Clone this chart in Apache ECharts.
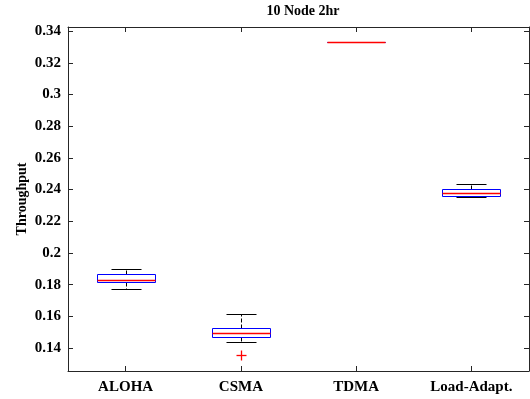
<!DOCTYPE html>
<html>
<head>
<meta charset="utf-8">
<script src="https://cdn.jsdelivr.net/npm/echarts@6/dist/echarts.min.js"></script>
<style>
  html, body { margin: 0; padding: 0; background: #fff; }
  #chart { width: 530px; height: 399px; }
</style>
</head>
<body>
<div id="chart"></div>
<script>
// box plot stats per protocol
const categories = ['ALOHA', 'CSMA', 'TDMA', 'Load-Adapt.']
const lowerWhisker = [0.1775, 0.1438, 0.3333, 0.2353]
const q1 = [0.1817, 0.1468, 0.3333, 0.2361]
const median = [0.1829, 0.1495, 0.3333, 0.2380]
const q3 = [0.1865, 0.1528, 0.3333, 0.2403]
const upperWhisker = [0.1899, 0.1616, 0.3333, 0.2433]
// outliers: [category index, value]
const outliers = [[1, 0.1356]]

const yMin = 0.1255
const yMax = 0.3426
const font = 'Liberation Serif, Times New Roman, serif'
const axisColor = '#262626'

const boxData = categories.map((c, i) => [i, lowerWhisker[i], q1[i], median[i], q3[i], upperWhisker[i]])

// snap to pixel centre so 1px lines stay crisp
const px = v => Math.round(v) + 0.5

function renderBox(params, api) {
  const i = api.value(0)
  const band = api.size([1, 0])[0]
  const x = px(api.coord([i, 0])[0])
  const yLow = px(api.coord([i, api.value(1)])[1])
  const yQ1 = px(api.coord([i, api.value(2)])[1])
  const yMed = px(api.coord([i, api.value(3)])[1])
  const yQ3 = px(api.coord([i, api.value(4)])[1])
  const yHigh = px(api.coord([i, api.value(5)])[1])
  const halfBox = Math.round(band * 0.25)
  const halfCap = Math.round(band * 0.13)
  const dash = { stroke: '#000', lineWidth: 1, lineDash: [4, 2] }
  const solid = { stroke: '#000', lineWidth: 1 }
  return {
    type: 'group',
    children: [
      { type: 'line', shape: { x1: x, y1: yQ3, x2: x, y2: yHigh }, style: dash },
      { type: 'line', shape: { x1: x, y1: yQ1, x2: x, y2: yLow }, style: dash },
      { type: 'line', shape: { x1: x - halfCap, y1: yHigh, x2: x + halfCap, y2: yHigh }, style: solid },
      { type: 'line', shape: { x1: x - halfCap, y1: yLow, x2: x + halfCap, y2: yLow }, style: solid },
      {
        type: 'rect',
        shape: { x: x - halfBox, y: yQ3, width: halfBox * 2, height: yQ1 - yQ3 },
        style: { stroke: '#0000ff', fill: 'none', lineWidth: 1 }
      },
      { type: 'line', shape: { x1: x - halfBox, y1: yMed, x2: x + halfBox, y2: yMed }, style: { stroke: '#ff0000', lineWidth: 1.3 } }
    ]
  }
}

function renderOutlier(params, api) {
  const p = api.coord([api.value(0), api.value(1)])
  const cx = px(p[0])
  const cy = px(p[1])
  const s = 5
  const st = { stroke: '#ff0000', fill: 'none', lineWidth: 1.3 }
  return {
    type: 'group',
    children: [
      { type: 'line', shape: { x1: cx - s, y1: cy, x2: cx + s, y2: cy }, style: st },
      { type: 'line', shape: { x1: cx, y1: cy - s, x2: cx, y2: cy + s }, style: st }
    ]
  }
}

const tickStyle = { show: true, inside: true, length: 5, lineStyle: { color: axisColor } }
const lineStyle = { show: true, lineStyle: { color: axisColor, width: 1 } }

const option = {
  animation: false,
  backgroundColor: '#fff',
  title: {
    text: '10 Node 2hr',
    left: 298,
    textAlign: 'center',
    top: -1,
    textStyle: { fontFamily: font, fontWeight: 'bold', fontSize: 14, color: '#000' }
  },
  grid: { left: 68, right: 1, top: 27, bottom: 28, containLabel: false, outerBoundsMode: 'none' },
  xAxis: [
    {
      type: 'category',
      data: categories,
      position: 'bottom',
      axisLine: lineStyle,
      axisTick: Object.assign({ alignWithLabel: true }, tickStyle),
      axisLabel: { fontFamily: font, fontWeight: 'bold', fontSize: 15, color: '#000', margin: 9 },
      splitLine: { show: false }
    },
    {
      type: 'category',
      data: categories,
      position: 'top',
      axisLine: lineStyle,
      axisTick: Object.assign({ alignWithLabel: true }, tickStyle),
      axisLabel: { show: false },
      splitLine: { show: false }
    }
  ],
  yAxis: [
    {
      type: 'value',
      min: yMin,
      max: yMax,
      splitNumber: 10,
      position: 'left',
      name: 'Throughput',
      nameLocation: 'middle',
      nameGap: 39,
      nameMoveOverlap: false,
      nameTextStyle: { fontFamily: font, fontWeight: 'bold', fontSize: 14, color: '#000' },
      axisLine: lineStyle,
      axisTick: tickStyle,
      axisLabel: { fontFamily: font, fontWeight: 'bold', fontSize: 15, color: '#000', margin: 7, showMinLabel: false, showMaxLabel: false },
      splitLine: { show: false }
    },
    {
      type: 'value',
      min: yMin,
      max: yMax,
      splitNumber: 10,
      position: 'right',
      axisLine: lineStyle,
      axisTick: tickStyle,
      axisLabel: { show: false },
      splitLine: { show: false }
    }
  ],
  series: [
    {
      type: 'custom',
      renderItem: renderBox,
      data: boxData,
      encode: { x: 0, y: [1, 2, 3, 4, 5] },
      z: 3
    },
    {
      type: 'custom',
      renderItem: renderOutlier,
      data: outliers,
      encode: { x: 0, y: 1 },
      itemStyle: { color: '#ff0000' },
      z: 4
    }
  ]
}

const chart = echarts.init(document.getElementById('chart'))
chart.setOption(option)
</script>
</body>
</html>
